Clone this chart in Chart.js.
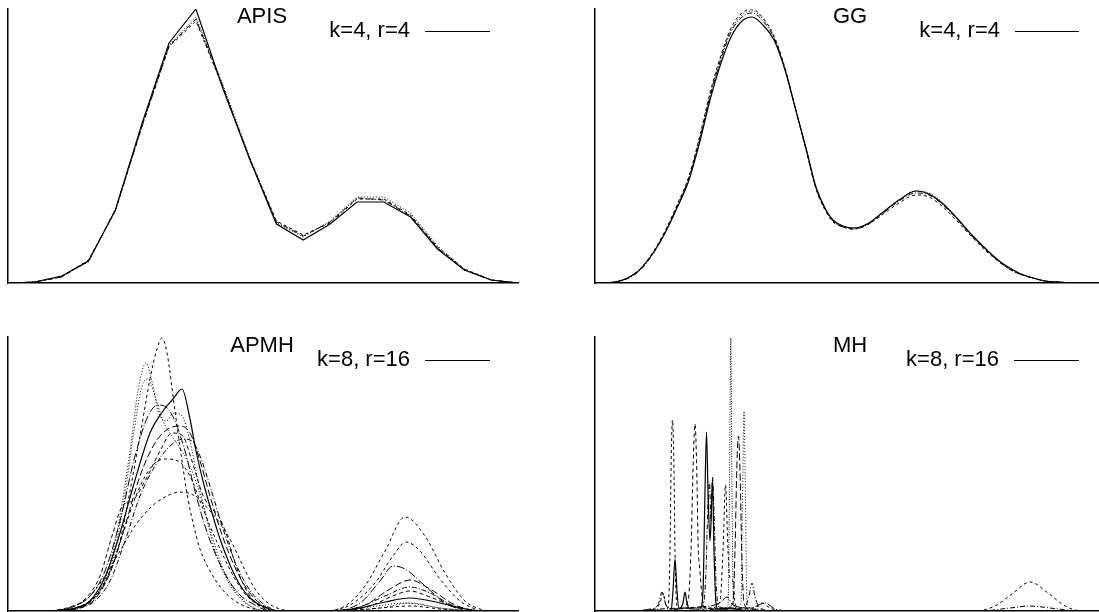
<!DOCTYPE html>
<html>
<head>
<meta charset="utf-8">
<script src="https://cdn.jsdelivr.net/npm/chart.js@4.4.1/dist/chart.umd.min.js"></script>
<style>
  html, body { margin: 0; padding: 0; background: #fff; overflow: hidden; width: 1099px; height: 612px; }
  canvas.panel { position: absolute; }
  .lbl { position: absolute; font-family: "Liberation Sans", Arial, sans-serif; font-size: 22px; line-height: 22px; color: #000; white-space: nowrap; }
  .mid { transform: translateX(-50%); }
  .key { position: absolute; height: 0; border-top: 1px solid #000; }
</style>
</head>
<body>
<canvas id="apis" class="panel"></canvas>
<canvas id="gg" class="panel"></canvas>
<canvas id="apmh" class="panel"></canvas>
<canvas id="mh" class="panel"></canvas>

<div class="lbl mid" style="left:262px; top:5px;">APIS</div>
<div class="lbl" style="right:689px; top:19px;">k=4, r=4</div>
<div class="key" style="left:425px; top:31px; width:65px;"></div>

<div class="lbl mid" style="left:850px; top:5px;">GG</div>
<div class="lbl" style="right:99px; top:19px;">k=4, r=4</div>
<div class="key" style="left:1015px; top:31px; width:64px;"></div>

<div class="lbl mid" style="left:262px; top:334px;">APMH</div>
<div class="lbl" style="right:689px; top:348px;">k=8, r=16</div>
<div class="key" style="left:425px; top:360px; width:65px;"></div>

<div class="lbl mid" style="left:850px; top:334px;">MH</div>
<div class="lbl" style="right:100px; top:348px;">k=8, r=16</div>
<div class="key" style="left:1014px; top:360px; width:65px;"></div>

<script>
// --- APIS: polylines on an even grid (x in axis units 0..510, y density scaled 0..274) ---
const apisX = [0, 26.8, 53.7, 80.5, 107.4, 134.2, 161, 187.9, 214.7, 241.6, 268.4, 295.3, 322.1, 349, 375.8, 402.6, 429.5, 456.3, 483.2, 510];
const apisSolid   = [0, 1, 7, 22, 73, 160, 240, 274, 195, 124, 59, 43, 59, 81, 81, 66, 34, 13, 3, 0];
const apisDashed  = [0, 1, 6, 23, 72, 158, 236, 262, 196, 125, 62, 48, 60, 84, 84, 68, 36, 14, 3, 0];
const apisDotted  = [0, 1, 7, 21, 74, 159, 238, 266, 199, 126, 60, 46, 62, 86, 86, 70, 37, 14, 3, 0];
const apisDashDot = [0, 1, 6, 22, 73, 157, 237, 264, 197, 124, 61, 47, 61, 85, 83, 67, 35, 13, 3, 0];

// --- GG: smooth curves ---
const ggX = [0, 20, 42, 56, 70, 82, 94, 105, 115, 126, 136, 147, 157, 168, 179, 190, 200, 211, 221, 230, 238, 248, 259, 272, 287, 304, 321, 334, 347, 361, 375, 391, 407, 422, 438, 450, 463, 480, 510];
const ggSolid   = [0, 1, 11, 27, 50, 75, 103, 142, 183, 220, 246, 262, 266, 258, 243, 213, 176, 135, 96, 75, 63, 57, 55, 59, 70, 83, 92, 89, 80, 66, 50, 34, 20, 11, 5, 2, 1, 0, 0];
const ggDashed  = [0, 1, 11, 28, 52, 78, 107, 148, 190, 228, 255, 270, 274, 265, 247, 215, 176, 133, 94, 73, 61, 56, 54, 58, 68, 80, 88, 86, 77, 63, 48, 32, 19, 10, 5, 2, 1, 0, 0];
const ggDotted  = [0, 1, 11, 27, 51, 77, 106, 146, 188, 226, 253, 268, 272, 264, 246, 214, 176, 134, 95, 74, 62, 57, 55, 59, 70, 83, 92, 90, 81, 66, 50, 33, 19, 10, 5, 2, 1, 0, 0];
const ggDashDot = [0, 1, 10, 26, 50, 76, 105, 145, 186, 224, 251, 266, 270, 262, 245, 214, 176, 134, 95, 74, 62, 56, 54, 58, 69, 82, 90, 88, 79, 65, 49, 33, 19, 10, 5, 2, 1, 0, 0];

// --- APMH: ten runs ---
const apmhAx = [47, 67, 82, 97, 112, 125, 142, 155, 165, 174, 182, 188, 196, 204, 212, 222, 232, 242, 254, 272, 322, 352, 377, 402, 432, 452, 472];
const apmhAy = [0, 3, 10, 34, 78, 124, 178, 200, 212, 222, 192, 160, 126, 98, 72, 46, 26, 13, 5, 0, 0, 3, 9, 13, 8, 3, 0];
const apmhBx = [52, 72, 87, 102, 112, 122, 132, 142, 149, 154, 159, 167, 174, 180, 186, 192, 202, 214, 227, 242, 262, 332, 372, 402, 432, 462];
const apmhBy = [0, 4, 14, 40, 70, 120, 175, 232, 262, 273, 258, 200, 150, 112, 84, 62, 40, 22, 10, 3, 0, 0, 3, 5, 2, 0];
const apmhCx = [52, 72, 87, 100, 112, 122, 130, 138, 144, 150, 158, 166, 174, 182, 190, 198, 207, 217, 230, 242, 257, 332, 372, 402, 432, 462];
const apmhCy = [0, 4, 14, 40, 95, 160, 220, 248, 230, 200, 190, 198, 195, 170, 130, 95, 60, 35, 15, 5, 0, 0, 3, 8, 3, 0];
const apmhDx = [47, 67, 82, 97, 112, 127, 140, 150, 158, 167, 177, 187, 197, 207, 220, 232, 247, 262, 322, 352, 372, 385, 397, 417, 437, 457];
const apmhDy = [0, 5, 15, 40, 90, 155, 195, 206, 204, 190, 160, 120, 85, 58, 32, 16, 6, 0, 0, 8, 30, 45, 42, 25, 8, 0];
const apmhEx = [52, 72, 87, 102, 117, 132, 147, 160, 172, 182, 192, 202, 212, 222, 234, 247, 260, 272, 322, 357, 382, 402, 422, 447, 467];
const apmhEy = [0, 3, 12, 38, 85, 135, 168, 182, 185, 178, 150, 115, 82, 55, 30, 12, 3, 0, 0, 6, 22, 31, 22, 6, 0];
const apmhFx = [47, 67, 82, 97, 112, 127, 142, 157, 172, 187, 202, 214, 224, 235, 247, 260, 272, 287, 312, 337, 357, 377, 397, 417, 437, 457, 477];
const apmhFy = [0, 5, 15, 35, 60, 85, 103, 114, 119, 115, 100, 85, 68, 45, 22, 8, 2, 0, 0, 5, 25, 60, 94, 75, 38, 10, 0];
const apmhGx = [42, 62, 77, 92, 104, 115, 124, 137, 152, 164, 174, 184, 194, 202, 210, 218, 228, 240, 252, 267, 332, 362, 387, 402, 422, 447, 467];
const apmhGy = [0, 4, 12, 35, 75, 106, 110, 130, 160, 178, 176, 150, 118, 104, 96, 78, 45, 18, 5, 0, 0, 5, 16, 20, 14, 4, 0];
const apmhHx = [50, 70, 84, 100, 114, 130, 144, 157, 170, 182, 192, 202, 214, 227, 240, 254, 270, 317, 342, 367, 385, 398, 412, 432, 452, 472];
const apmhHy = [0, 4, 12, 35, 75, 120, 145, 152, 150, 135, 110, 85, 58, 32, 14, 4, 0, 0, 6, 28, 55, 69, 60, 32, 10, 0];
const apmhIx = [52, 72, 87, 102, 117, 132, 147, 162, 175, 184, 192, 202, 212, 222, 232, 244, 257, 272, 322, 352, 377, 402, 422, 444, 467];
const apmhIy = [0, 3, 10, 30, 70, 115, 145, 165, 172, 170, 155, 125, 92, 62, 38, 18, 6, 0, 0, 4, 15, 24, 18, 6, 0];
const apmhJx = [54, 74, 89, 104, 116, 126, 134, 140, 147, 155, 164, 174, 184, 194, 204, 214, 227, 240, 254, 322, 362, 397, 432, 462];
const apmhJy = [0, 4, 15, 48, 110, 180, 225, 232, 215, 190, 175, 160, 140, 110, 75, 45, 20, 7, 0, 0, 4, 8, 3, 0];

// --- MH: spiky runs ---
const mh1x = [45, 65, 73, 76, 78, 80, 82, 84, 88, 90, 92, 95, 105, 108, 110, 111.5, 113, 115, 116, 117.5, 119, 121, 123, 135, 145, 165];
const mh1y = [0, 1, 0, 0, 20, 52, 20, 2, 8, 19, 8, 2, 2, 20, 120, 179, 120, 70, 88, 132, 60, 8, 2, 3, 1, 0];
const mh2x = [40, 60, 65, 68, 71, 73, 75, 76, 77.5, 79, 80, 82, 87, 105, 125, 160, 167, 175, 185];
const mh2y = [0, 2, 8, 18, 5, 3, 60, 140, 191, 140, 60, 5, 3, 4, 2, 3, 8, 3, 0];
const mh3x = [65, 85, 93, 96, 98, 100, 102, 103, 105, 107, 110, 125, 145];
const mh3y = [0, 2, 10, 60, 140, 187, 130, 70, 40, 15, 3, 2, 0];
const mh4x = [45, 65, 95, 108, 111, 113, 114.5, 116, 117.5, 119, 121, 124, 140, 150, 154, 157, 160, 165, 180, 385, 415, 435, 455, 480];
const mh4y = [0, 2, 3, 5, 40, 110, 129, 90, 134, 100, 30, 4, 3, 4, 15, 28, 14, 3, 0, 0, 3, 5, 3, 0];
const mh5x = [105, 130, 138, 140, 142, 143.5, 145, 147, 149, 155, 175];
const mh5y = [0, 3, 8, 60, 150, 175, 140, 50, 8, 2, 0];
const mh6x = [105, 127, 133, 134.5, 135.8, 137, 138.5, 145, 165];
const mh6y = [0, 2, 5, 120, 273, 120, 5, 2, 0];
const mh7x = [120, 140, 146, 147.5, 149, 150.5, 152, 157, 170];
const mh7y = [0, 3, 8, 110, 200, 110, 8, 3, 0];
const mh8x = [95, 117, 125, 128, 130.5, 133, 135, 138, 140, 145, 165, 380, 400, 417, 435, 453, 467, 480, 495];
const mh8y = [0, 3, 10, 60, 126, 60, 33, 30, 8, 2, 0, 0, 5, 17, 29, 18, 7, 1, 0];
const mh9x = [35, 55, 63, 67, 71, 75, 105, 125, 132, 138, 155, 170, 180, 195];
const mh9y = [0, 2, 6, 19, 6, 2, 4, 8, 14, 6, 3, 8, 2, 0];

// --- line styles ---
const DASH = {
  solid: [],
  dash: [3, 3],
  dash2: [4, 3],
  dot: [1, 2],
  dotFine: [1, 1.5],
  dashdot: [5, 2, 1, 2],
  longdash: [7, 3],
  longdashdot: [8, 2, 1, 2]
};

function series(xs, ys, style) {
  return {
    data: xs.map((x, i) => ({ x: x, y: ys[i] })),
    borderColor: '#000',
    borderWidth: style === 'solid' ? 1.2 : 1,
    borderDash: DASH[style],
    pointRadius: 0,
    fill: false
  };
}

function drawPanel(id, left, top, sets, smooth) {
  const cv = document.getElementById(id);
  cv.width = 518;
  cv.height = 282;
  cv.style.left = (left - 4) + 'px';
  cv.style.top = (top - 4) + 'px';

  const axis = (max) => ({
    type: 'linear',
    min: 0,
    max: max,
    ticks: { display: false },
    grid: { display: false, drawTicks: false },
    border: { display: true, color: '#000', width: 1.5 }
  });

  new Chart(cv, {
    type: 'line',
    data: { datasets: sets },
    options: {
      responsive: false,
      animation: false,
      events: [],
      layout: { padding: 4 },
      elements: { line: { tension: 0, cubicInterpolationMode: smooth ? 'monotone' : 'default' } },
      plugins: { legend: { display: false }, tooltip: { enabled: false } },
      scales: { x: axis(510), y: axis(274) }
    }
  });
}

drawPanel('apis', 8, 9, [
  series(apisX, apisDotted, 'dot'),
  series(apisX, apisDashDot, 'dashdot'),
  series(apisX, apisDashed, 'dash'),
  series(apisX, apisSolid, 'solid')
], false);

drawPanel('gg', 595, 9, [
  series(ggX, ggDotted, 'dot'),
  series(ggX, ggDashDot, 'dashdot'),
  series(ggX, ggDashed, 'dash'),
  series(ggX, ggSolid, 'solid')
], true);

drawPanel('apmh', 8, 337, [
  series(apmhBx, apmhBy, 'dash'),
  series(apmhCx, apmhCy, 'dot'),
  series(apmhDx, apmhDy, 'longdashdot'),
  series(apmhEx, apmhEy, 'longdash'),
  series(apmhFx, apmhFy, 'dash'),
  series(apmhGx, apmhGy, 'dash2'),
  series(apmhHx, apmhHy, 'dash'),
  series(apmhIx, apmhIy, 'dashdot'),
  series(apmhJx, apmhJy, 'dot'),
  series(apmhAx, apmhAy, 'solid')
], true);

drawPanel('mh', 595, 337, [
  series(mh2x, mh2y, 'dash'),
  series(mh3x, mh3y, 'dash2'),
  series(mh4x, mh4y, 'dashdot'),
  series(mh5x, mh5y, 'longdash'),
  series(mh6x, mh6y, 'dotFine'),
  series(mh7x, mh7y, 'dot'),
  series(mh8x, mh8y, 'dash'),
  series(mh9x, mh9y, 'longdashdot'),
  series(mh1x, mh1y, 'solid')
], true);
</script>
</body>
</html>
